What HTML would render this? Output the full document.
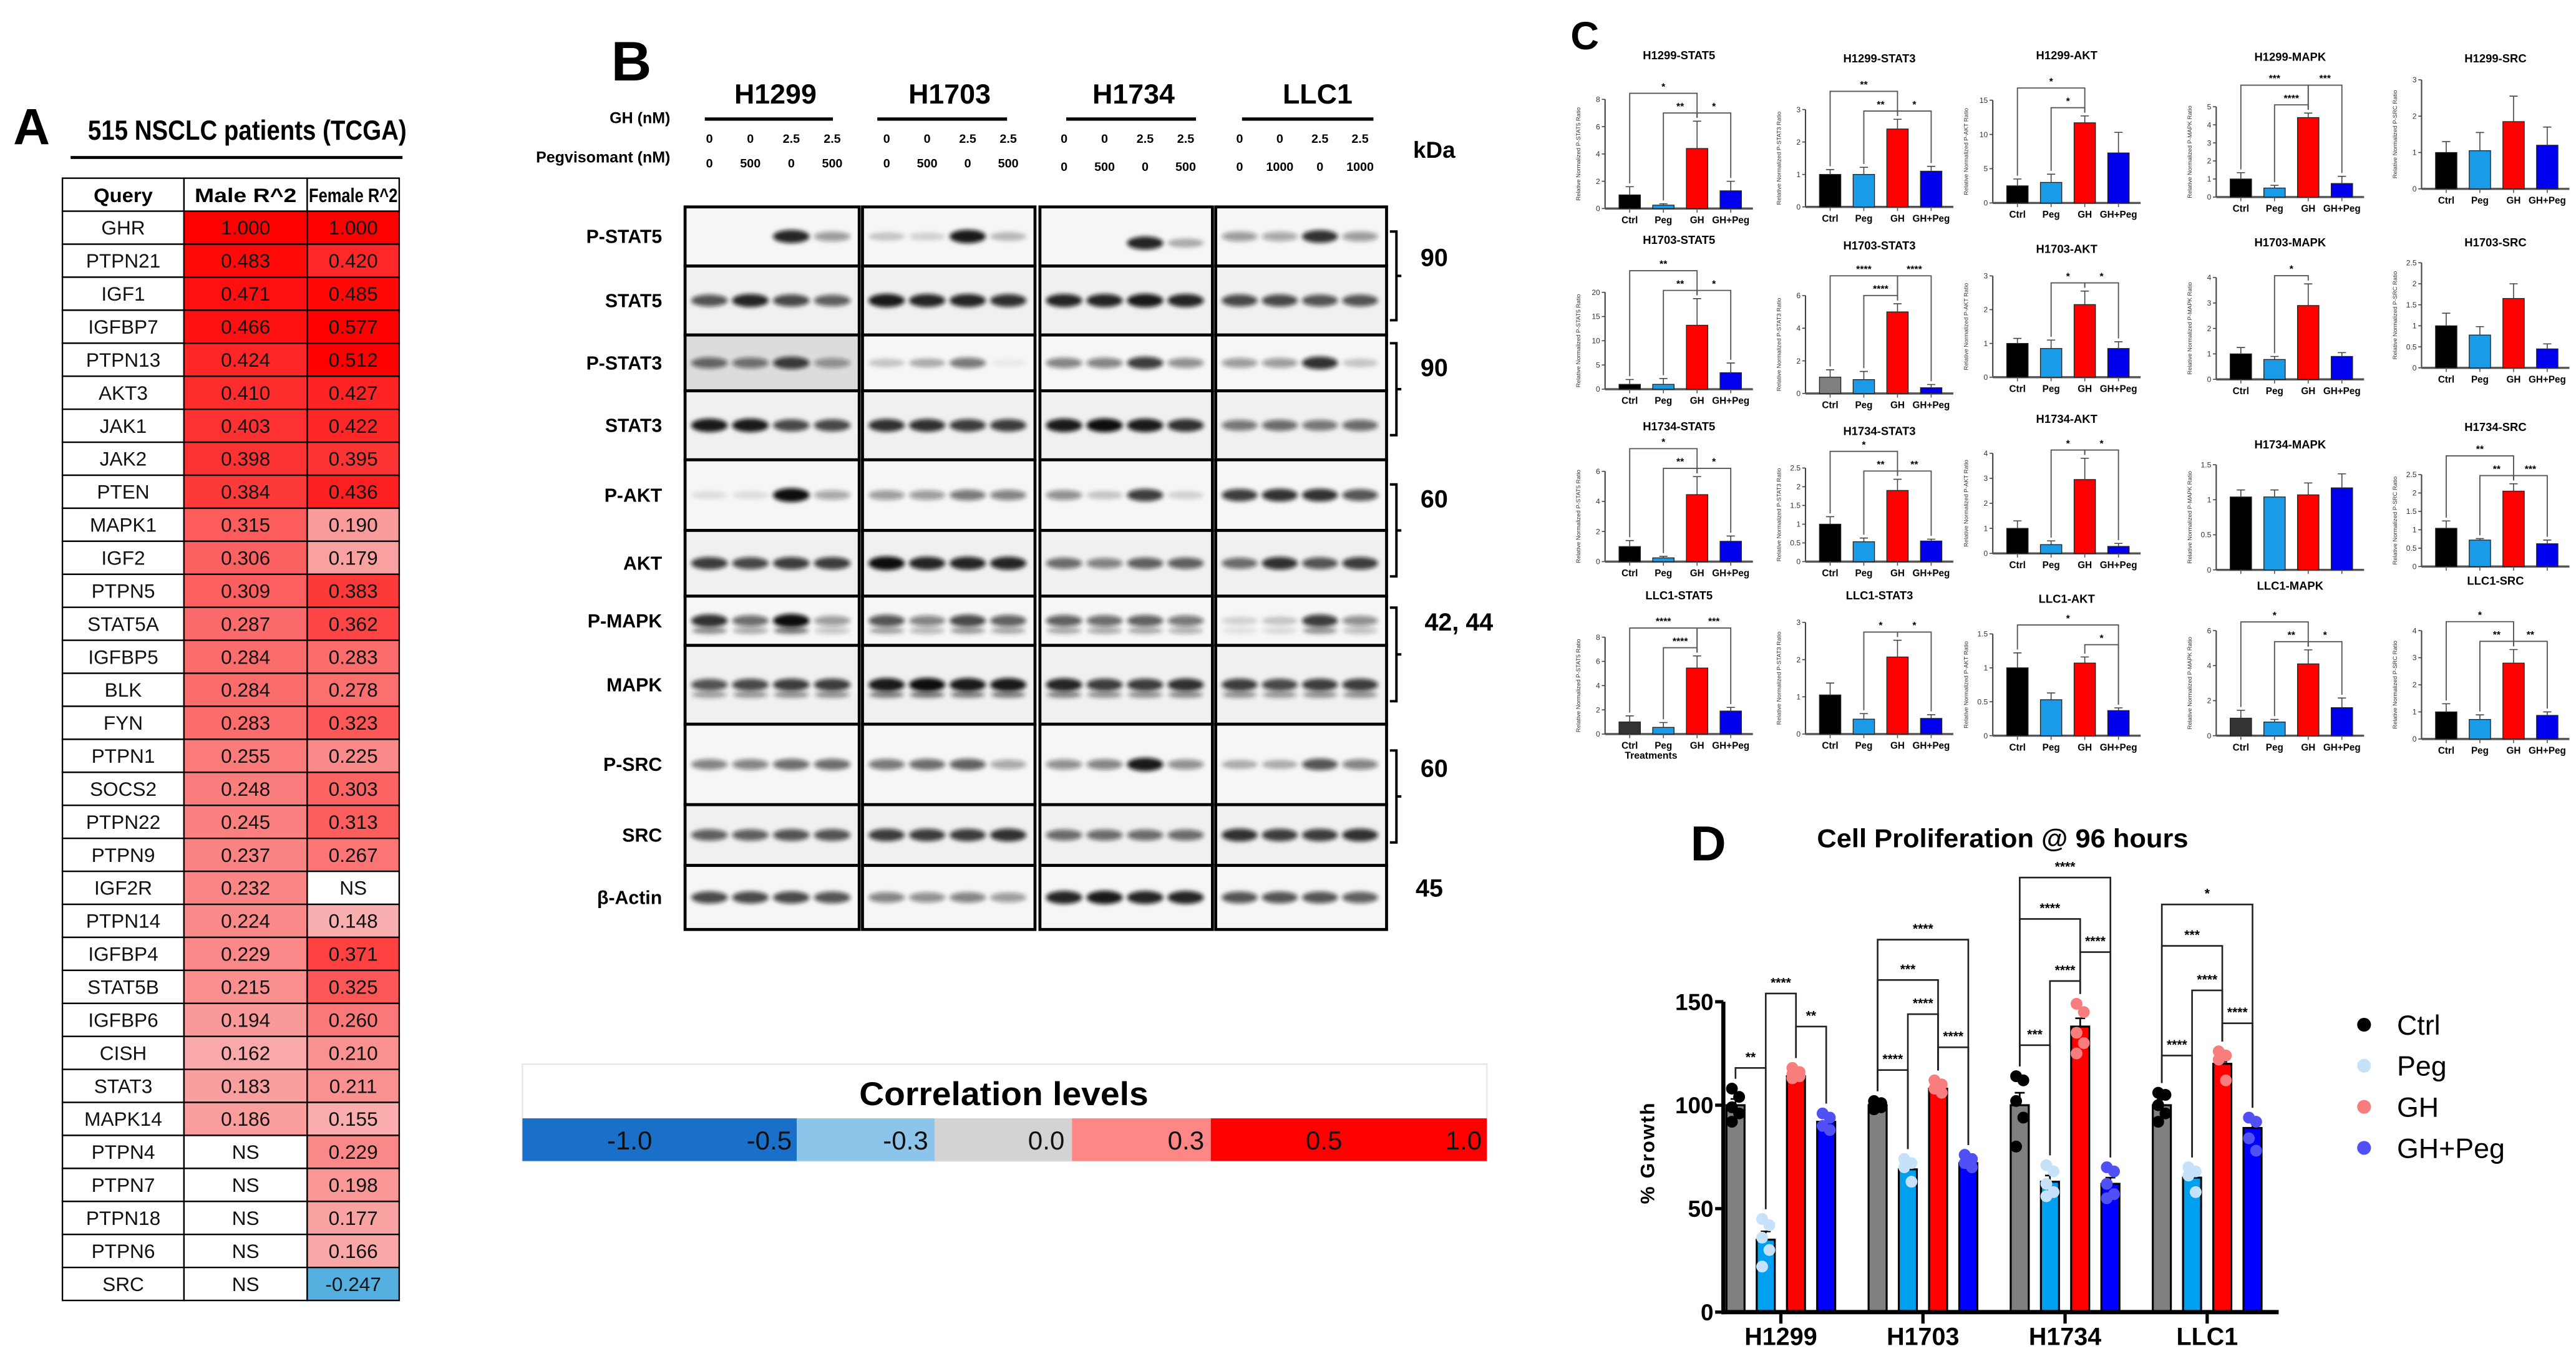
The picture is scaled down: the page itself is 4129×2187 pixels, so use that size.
<!DOCTYPE html>
<html><head><meta charset="utf-8"><title>GHR figure</title>
<style>
html,body{margin:0;padding:0;background:#fff;}
svg{display:block;}
text{font-family:"Liberation Sans Narrow","Liberation Sans",sans-serif;}
</style></head>
<body>
<svg id="fig" xmlns="http://www.w3.org/2000/svg" width="4129" height="2187" viewBox="0 0 1568 830.6" preserveAspectRatio="none">
<defs><filter id="blur" x="-50%" y="-100%" width="200%" height="300%"><feGaussianBlur stdDeviation="1.3"/></filter></defs>
<rect x="0" y="0" width="1568" height="831" fill="#fff"/>
<text x="8" y="88" font-size="31" font-weight="bold" style="font-family:'Liberation Sans',sans-serif">A</text>
<text x="53.5" y="85" font-size="17" font-weight="bold" textLength="194" lengthAdjust="spacingAndGlyphs">515 NSCLC patients (TCGA)</text>
<rect x="43" y="95" width="202" height="1.8" fill="#000"/>
<text x="372" y="49" font-size="34" font-weight="bold" style="font-family:'Liberation Sans',sans-serif">B</text>
<text x="408" y="75" font-size="9.5" font-weight="bold" text-anchor="end">GH (nM)</text>
<text x="408" y="99" font-size="9.5" font-weight="bold" text-anchor="end">Pegvisomant (nM)</text>
<text x="873" y="96" font-size="14" font-weight="bold" text-anchor="middle">kDa</text>
<rect x="318" y="648" width="587" height="59" fill="#fff" stroke="#e8e8e8" stroke-width="1"/>
<text x="611" y="673" font-size="20" font-weight="bold" text-anchor="middle" textLength="176" lengthAdjust="spacingAndGlyphs">Correlation levels</text>
<text x="956" y="30" font-size="24" font-weight="bold" style="font-family:'Liberation Sans',sans-serif">C</text>
<text x="1005" y="462" font-size="6" font-weight="bold" text-anchor="middle">Treatments</text>
<text x="1029" y="524" font-size="30" font-weight="bold" style="font-family:'Liberation Sans',sans-serif">D</text>
<text x="1219" y="516" font-size="16" font-weight="bold" text-anchor="middle" textLength="226" lengthAdjust="spacingAndGlyphs">Cell Proliferation @ 96 hours</text>
<text x="0" y="0" transform="translate(1007,702) rotate(-90)" font-size="12" font-weight="bold" text-anchor="middle" letter-spacing="0.8" style="font-family:'Liberation Sans',sans-serif">% Growth</text>
</svg>
<script>
const queries=["GHR","PTPN21","IGF1","IGFBP7","PTPN13","AKT3","JAK1","JAK2","PTEN","MAPK1","IGF2","PTPN5","STAT5A","IGFBP5","BLK","FYN","PTPN1","SOCS2","PTPN22","PTPN9","IGF2R","PTPN14","IGFBP4","STAT5B","IGFBP6","CISH","STAT3","MAPK14","PTPN4","PTPN7","PTPN18","PTPN6","SRC"];
const maleR2=[1.000,0.483,0.471,0.466,0.424,0.410,0.403,0.398,0.384,0.315,0.306,0.309,0.287,0.284,0.284,0.283,0.255,0.248,0.245,0.237,0.232,0.224,0.229,0.215,0.194,0.162,0.183,0.186,null,null,null,null,null];
const femaleR2=[1.000,0.420,0.485,0.577,0.512,0.427,0.422,0.395,0.436,0.190,0.179,0.383,0.362,0.283,0.278,0.323,0.225,0.303,0.313,0.267,null,0.148,0.371,0.325,0.260,0.210,0.211,0.155,0.229,0.198,0.177,0.166,-0.247];
const cbLabels=["-1.0","-0.5","-0.3","0.0","0.3","0.5","1.0"];
const cbColors=["#1a70c8","#8dc4ea","#d3d3d3","#fd8686","#fe0000"];
const blotCells=["H1299","H1703","H1734","LLC1"];
const blotTreatGH=[["0","0","2.5","2.5"],["0","0","2.5","2.5"],["0","0","2.5","2.5"],["0","0","2.5","2.5"]];
const blotTreatPeg=[["0","500","0","500"],["0","500","0","500"],["0","500","0","500"],["0","1000","0","1000"]];
const blotRows=["P-STAT5","STAT5","P-STAT3","STAT3","P-AKT","AKT","P-MAPK","MAPK","P-SRC","SRC","β-Actin"];
const blotIntensity=[
 [[0,0,.9,.4],[.2,.15,.95,.25],[0,0,.9,.3],[.4,.35,.85,.4]],
 [[.7,.9,.75,.65],[.95,.9,.9,.85],[.9,.9,.95,.9],[.75,.75,.7,.7]],
 [[.6,.55,.8,.4],[.2,.3,.55,.05],[.5,.5,.8,.45],[.4,.4,.85,.2]],
 [[.95,.95,.75,.75],[.85,.85,.8,.8],[.95,1,.95,.85],[.55,.6,.55,.6]],
 [[.1,.1,1,.35],[.4,.4,.55,.5],[.45,.2,.8,.15],[.8,.85,.85,.7]],
 [[.8,.75,.8,.8],[1,.9,.9,.9],[.6,.5,.65,.65],[.6,.85,.7,.8]],
 [[.85,.6,1,.4],[.7,.5,.75,.65],[.65,.6,.65,.55],[.15,.2,.8,.45]],
 [[.7,.75,.8,.8],[.95,1,.95,.95],[.9,.8,.8,.85],[.8,.75,.8,.8]],
 [[.5,.5,.6,.6],[.55,.6,.65,.35],[.45,.5,.95,.45],[.3,.3,.7,.5]],
 [[.65,.65,.7,.7],[.8,.8,.8,.85],[.6,.6,.6,.6],[.85,.8,.8,.85]],
 [[.75,.75,.75,.7],[.5,.45,.5,.4],[.9,.95,.9,.9],[.7,.7,.7,.65]]];
const kdaLabels=["90","90","60","42, 44","60","45"];
const cTitles=["H1299-STAT5","H1299-STAT3","H1299-AKT","H1299-MAPK","H1299-SRC",
 "H1703-STAT5","H1703-STAT3","H1703-AKT","H1703-MAPK","H1703-SRC",
 "H1734-STAT5","H1734-STAT3","H1734-AKT","H1734-MAPK","H1734-SRC",
 "LLC1-STAT5","LLC1-STAT3","LLC1-AKT","LLC1-MAPK","LLC1-SRC"];
const cTicks=[[0,2,4,6,8],[0,1,2,3],[0,5,10,15],[0,1,2,3,4,5],[0,1,2,3],
 [0,5,10,15,20],[0,2,4,6],[0,1,2,3],[0,1,2,3,4],[0,0.5,1,1.5,2,2.5],
 [0,2,4,6],[0,0.5,1,1.5,2,2.5],[0,1,2,3,4],[0,0.5,1,1.5],[0,0.5,1,1.5,2,2.5],
 [0,2,4,6,8],[0,1,2,3],[0,0.5,1,1.5],[0,2,4,6],[0,1,2,3,4]];
const cGroups=["Ctrl","Peg","GH","GH+Peg"];
const cVals=[[1,0.25,4.4,1.3],[1,1,2.4,1.1],[2.5,3,11.7,7.3],[1,0.5,4.4,0.75],[1,1.05,1.85,1.2],
 [1,1,13.2,3.4],[1,0.85,5,0.35],[1,0.85,2.15,0.85],[1,0.78,2.9,0.9],[1,0.78,1.65,0.45],
 [1,0.25,4.45,1.35],[1,0.53,1.9,0.55],[1,0.35,2.95,0.28],[1.04,1.04,1.07,1.17],[1.04,0.72,2.05,0.62],
 [1,0.55,5.45,1.9],[1.05,0.4,2.07,0.42],[1,0.53,1.07,0.37],[1,0.78,4.1,1.6],[1,0.72,2.8,0.87]];
const cErrs=[[0.6,0.1,2,0.7],[0.15,0.22,0.3,0.15],[1,1.2,1,3],[0.35,0.15,0.25,0.4],[0.3,0.5,0.7,0.5],
 [1,1.2,5.5,2],[0.45,0.5,0.5,0.2],[0.15,0.25,0.4,0.2],[0.25,0.12,0.85,0.15],[0.3,0.2,0.35,0.12],
 [0.4,0.1,1.2,0.35],[0.2,0.1,0.3,0.05],[0.3,0.15,0.85,0.12],[0.1,0.1,0.17,0.2],[0.2,0.04,0.2,0.1],
 [0.5,0.4,1,0.3],[0.32,0.15,0.45,0.1],[0.22,0.1,0.09,0.04],[0.45,0.15,0.8,0.55],[0.3,0.17,0.5,0.13]];
const cSig=[[[0,2,"*",2],[1,2,"**",1],[2,3,"*",1]],[[0,2,"**",2],[1,2,"**",1],[2,3,"*",1]],[[0,2,"*",2],[1,2,"*",1]],[[0,2,"***",2],[1,2,"****",1],[2,3,"***",2]],[],
 [[0,2,"**",2],[1,2,"**",1],[2,3,"*",1]],[[0,2,"****",2],[1,2,"****",1],[2,3,"****",2]],[[1,2,"*",1],[2,3,"*",1]],[[1,2,"*",1]],[],
 [[0,2,"*",2],[1,2,"**",1],[2,3,"*",1]],[[0,2,"*",2],[1,2,"**",1],[2,3,"**",1]],[[1,2,"*",1],[2,3,"*",1]],[],[[0,2,"**",2],[1,2,"**",1],[2,3,"***",1]],
 [[0,2,"****",2],[1,2,"****",1],[2,3,"***",2]],[[1,2,"*",1],[2,3,"*",1]],[[0,3,"*",2],[2,3,"*",1]],[[0,2,"*",2],[1,2,"**",1],[2,3,"*",1]],[[0,2,"*",2],[1,2,"**",1],[2,3,"**",1]]];
const dCells=["H1299","H1703","H1734","LLC1"];
const dSeries=["Ctrl","Peg","GH","GH+Peg"];
const dMeans=[[100,35,114,92],[100,69,108,72],[100,63,138,62],[100,65,120,89]];
const dErrs=[[3,4,1,2],[1,2,1,1],[6,3,4,3],[3,2,1,3]];
const dPoints=[
 [[108,104,99,96,92],[45,42,36,30,22],[118,116,115,114,113],[96,94,90,88]],
 [[102,101,100,99,98],[74,72,70,63],[112,110,108,106],[76,74,72,70]],
 [[114,112,102,94,80],[71,68,62,58,56],[149,145,135,130,125],[70,68,62,57,55]],
 [[106,105,100,96,92],[70,68,66,58],[126,124,122,112],[94,92,84,78]]];
const dSig=[
 [[0,1,"**",118],[1,2,"****",154],[2,3,"**",138]],
 [[0,1,"****",117],[1,2,"****",144],[2,3,"****",128],[0,2,"***",160.5],[0,3,"****",180]],
 [[0,1,"***",129],[1,2,"****",160],[2,3,"****",174],[0,2,"****",190],[0,3,"****",210]],
 [[0,1,"****",124],[1,2,"****",155.5],[2,3,"****",139.6],[0,2,"***",177],[0,3,"*",197]]];
const dTicks=[0,50,100,150];

const NS='http://www.w3.org/2000/svg';
const svg=document.getElementById('fig');
function mk(tag,attrs,parent){const e=document.createElementNS(NS,tag);for(const k in attrs)e.setAttribute(k,attrs[k]);(parent||svg).appendChild(e);return e;}
function tx(s,attrs,parent){const e=mk('text',attrs,parent);e.textContent=s;return e;}

const colX=[38,112,187,243];
const rowH=20.1, tTop=108.5;
function rColor(v){
  if(v===null) return '#ffffff';
  if(v<0) return '#55b0e0';
  const t=Math.max(0,Math.min(1,(v-0.15)/0.35));
  const r=Math.round(249+6*t), g=Math.round(175*(1-t)), b=Math.round(175*(1-t));
  return `rgb(${r},${g},${b})`;
}
const headers=["Query","Male R^2","Female R^2"];
const headerLen=[36,62,54];
for(let c=0;c<3;c++){
  const h=mk('rect',{x:colX[c],y:tTop,width:colX[c+1]-colX[c],height:rowH,fill:'#fff',stroke:'#000','stroke-width':0.9});
  
  
  const ht=tx(headers[c],{x:(colX[c]+colX[c+1])/2,y:tTop+14.5,'font-size':12,'font-weight':'bold','text-anchor':'middle',textLength:headerLen[c],lengthAdjust:'spacingAndGlyphs'});
  
  
}
queries.forEach((q,i)=>{
  const y=tTop+rowH*(i+1);
  const vals=[q,maleR2[i],femaleR2[i]];
  for(let c=0;c<3;c++){
    const fill=c===0?'#fff':rColor(vals[c]);
    const r=mk('rect',{x:colX[c],y:y,width:colX[c+1]-colX[c],height:rowH,fill:fill,stroke:'#000','stroke-width':0.9});
    
    
    const s=c===0?q:(vals[c]===null?'NS':vals[c].toFixed(3));
    const t=tx(s,{x:(colX[c]+colX[c+1])/2,y:y+14.3,'font-size':12,'text-anchor':'middle',fill:'#111'});
    
    
  }
});

const cbEdges=[318,485,569,652.5,737,905];
cbColors.forEach((col,i)=>{
  const r=mk('rect',{x:cbEdges[i],y:681,width:cbEdges[i+1]-cbEdges[i],height:26,fill:col});
  
  
});
const cbLabelX=[397,482,565,648,733,817,902];
cbLabels.forEach((l,i)=>{
  const t=tx(l,{x:cbLabelX[i],y:700,'font-size':16,'text-anchor':'end',fill:'#111'});
  
  
});

const bColX=[[417,523],[525,630],[633,738],[740,844]];
const bRowY=[126,162,204,238,280,323,363,393,441,490,527,566];
const headX=[472,578,690,802], lineX=[[429,507],[534,613],[649,728],[756,836]];
blotCells.forEach((c,ci)=>{
  const t=tx(c,{x:headX[ci],y:63,'font-size':17,'font-weight':'bold','text-anchor':'middle'});
  
  
  const ln=mk('rect',{x:lineX[ci][0],y:71.5,width:lineX[ci][1]-lineX[ci][0],height:2,fill:'#000'});
  
  
  const w=bColX[ci][1]-bColX[ci][0];
  for(let l=0;l<4;l++){
    const lx=bColX[ci][0]+w*(0.14+l*0.235);
    const g=tx(blotTreatGH[ci][l],{x:lx,y:87,'font-size':7.5,'font-weight':'bold','text-anchor':'middle'});
    
    
    const p=tx(blotTreatPeg[ci][l],{x:lx,y:ci<2?102:104,'font-size':7.5,'font-weight':'bold','text-anchor':'middle'});
    
    
  }
});
blotRows.forEach((rn,ri)=>{
  const y0=bRowY[ri], y1=bRowY[ri+1];
  const lab=tx(rn,{x:403,y:(y0+y1)/2+4,'font-size':11.5,'font-weight':'bold','text-anchor':'end'});
  
  
  for(let ci=0;ci<4;ci++){
    const x0=bColX[ci][0], x1=bColX[ci][1], w=x1-x0;
    const bg=(ri===2&&ci===0)?'#dcdcdc':(ri%2===0?'#f6f6f6':'#f0f0f0');
    const cell=mk('rect',{x:x0,y:y0,width:w,height:y1-y0,fill:bg,stroke:'#000','stroke-width':1.8});
    
    
    for(let l=0;l<4;l++){
      const v=blotIntensity[ri][ci][l];
      if(v<=0) continue;
      const cx=x0+w*(0.14+l*0.235);
      let cy=(y0+y1)/2+(ri===0&&ci===2?4:0);
      const band=mk('ellipse',{cx:cx,cy:cy,rx:w*0.105,ry:2.2+2*v,fill:'#111','fill-opacity':Math.min(1,v),filter:'url(#blur)'});
      
      
      if(ri===6||ri===7){
        const b2=mk('ellipse',{cx:cx,cy:cy+6,rx:w*0.1,ry:2,fill:'#222','fill-opacity':v*0.6,filter:'url(#blur)'});
        
        
      }
    }
  }
});
const brackets=[[141,195],[209,265],[295,351],[370,427],[457,513]];
brackets.forEach(b=>{
  const p=mk('path',{d:`M846 ${b[0]} H850 V${b[1]} H846 M850 ${(b[0]+b[1])/2} H853`,fill:'none',stroke:'#000','stroke-width':1.5});
  
  
});
const kdaY=[162,229,309,384,473,546], kdaX=[873,873,873,888,873,870];
kdaLabels.forEach((k,i)=>{
  const t=tx(k,{x:kdaX[i],y:kdaY[i],'font-size':15,'font-weight':'bold','text-anchor':'middle'});
  
  
});

const cAx=[977,1099,1213,1349,1474];
const cBase=[127,126,123.6,120,115, 237,239.6,229.7,231,224, 342,342,337,347,345, 447,447,448,448,450];
const cTopY=[60.5,66.7,61,65,48.6, 178,180,168,169,160, 287,285,276,283,289, 388,379,386,384,384];
const cTitleY=[36,38,36,37,38, 148.5,152,154,150,150, 262,265,257.5,273,262.5, 365,365,367,359,356];
const cNoLabels=[13,14];
const cCols=['#000000','#1a9be8','#ff0000','#0000ee'];
cTitles.forEach((title,i)=>{
  const ax=cAx[i%5], base=cBase[i], top=cTopY[i];
  const ticks=cTicks[i], ymax=ticks[ticks.length-1];
  const ys=v=>base-(v/ymax)*(base-top);
  const g=mk('g',{});
  
  
  const tt=tx(title,{x:ax+45,y:cTitleY[i],'font-size':7,'font-weight':'bold','text-anchor':'middle'},g);
  
  
  const yl=tx('Relative Normalized P-'+title.split('-')[1]+' Ratio',{x:0,y:0,transform:`translate(${ax-15},${(base+top)/2}) rotate(-90)`,'font-size':3.6,'text-anchor':'middle',fill:'#333'},g);
  
  
  const yax=mk('line',{x1:ax,y1:top,x2:ax,y2:base,stroke:'#444','stroke-width':0.8},g);
  
  
  ticks.forEach(tv=>{
    const tk=mk('line',{x1:ax-2,y1:ys(tv),x2:ax,y2:ys(tv),stroke:'#444','stroke-width':0.6},g);
    
    
    const tl=tx(String(tv%1===0?tv:tv.toFixed(1)),{x:ax-3,y:ys(tv)+1.6,'font-size':4.6,'text-anchor':'end',fill:'#333'},g);
    
    
  });
  const xax=mk('line',{x1:ax,y1:base,x2:ax+90,y2:base,stroke:'#555','stroke-width':1.3},g);
  
  
  const bx=k=>ax+15+k*20.5;
  cVals[i].forEach((v,k)=>{
    const col=(i===6&&k===0)?'#808080':((i===15||i===18)&&k===0?'#333':cCols[k]);
    const b=mk('rect',{x:bx(k)-6.5,y:ys(v),width:13,height:base-ys(v),fill:col,stroke:'#222','stroke-width':0.5},g);
    
    
    const e=cErrs[i][k];
    const eb=mk('path',{d:`M${bx(k)} ${ys(v)} V${ys(v+e)} M${bx(k)-2.5} ${ys(v+e)} H${bx(k)+2.5}`,stroke:'#444','stroke-width':0.6,fill:'none'},g);
    
    
    const xt=mk('line',{x1:bx(k),y1:base,x2:bx(k),y2:base+2.5,stroke:'#555','stroke-width':0.6},g);
    
    
    if(cNoLabels.indexOf(i)<0){
      const xl=tx(cGroups[k],{x:bx(k),y:base+9,'font-size':5.8,'font-weight':'bold','text-anchor':'middle'},g);
      
      
    }
  });
  let peak=0; cVals[i].forEach((v,k)=>{peak=Math.max(peak,v+cErrs[i][k]);});
  const lvl1=ys(peak)-5;
  cSig[i].forEach(s=>{
    const yb=s[3]===1?lvl1:lvl1-12;
    const x1=bx(s[0]),x2=bx(s[1]);
    const br=mk('path',{d:`M${x1} ${ys(cVals[i][s[0]]+cErrs[i][s[0]])-2} V${yb} H${x2} V${ys(cVals[i][s[1]]+cErrs[i][s[1]])-2}`,stroke:'#555','stroke-width':0.7,fill:'none'},g);
    
    
    const st=tx(s[2],{x:(x1+x2)/2,y:yb-2,'font-size':6,'font-weight':'bold','text-anchor':'middle'},g);
    
    
  });
});

const dAxX=1049, dY0=799, dPx=1.26, dG0=1084, dGs=86.5, dBs=18.4, dBw=11;
const yD=v=>dY0-v*dPx;
const gx=g=>dG0+g*dGs;
const bxD=(g,k)=>gx(g)-1.5*dBs+k*dBs;
const dBarCols=['#808080','#00a0f0','#ff0000','#0000ff'];
const dPtCols=['#000000','#c6e2fb','#f87d7d','#5050f5'];
const dYax=mk('line',{x1:dAxX,y1:yD(150),x2:dAxX,y2:dY0+1.3,stroke:'#000','stroke-width':2.5});


dTicks.forEach(t=>{
  const tk=mk('line',{x1:dAxX-5,y1:yD(t),x2:dAxX,y2:yD(t),stroke:'#000','stroke-width':2});
  
  
  const tl=tx(String(t),{x:dAxX-6,y:yD(t)+5,'font-size':14,'font-weight':'bold','text-anchor':'end'});
  
  
});
dCells.forEach((cell,g)=>{
  dMeans[g].forEach((v,k)=>{
    const b=mk('rect',{x:bxD(g,k)-dBw/2,y:yD(v),width:dBw,height:dY0-yD(v),fill:dBarCols[k],stroke:'#000','stroke-width':1.2});
    
    
    const e=dErrs[g][k];
    const eb=mk('path',{d:`M${bxD(g,k)} ${yD(v)} V${yD(v+e)} M${bxD(g,k)-3} ${yD(v+e)} H${bxD(g,k)+3}`,stroke:'#000','stroke-width':1,fill:'none'});
    
    
    dPoints[g][k].forEach((p,j)=>{
      const c=mk('circle',{cx:bxD(g,k)+(j%2?2.2:-2.2),cy:yD(p),r:3.6,fill:dPtCols[k]});
      
      
    });
  });
  const tk=mk('line',{x1:gx(g),y1:dY0,x2:gx(g),y2:dY0+7,stroke:'#000','stroke-width':2});
  
  
  const xl=tx(cell,{x:gx(g),y:819,'font-size':15,'font-weight':'bold','text-anchor':'middle'});
  
  
  dSig[g].forEach(s=>{
    const x1=bxD(g,s[0]),x2=bxD(g,s[1]),yb=yD(s[3]);
    const top1=yD(Math.max(...dPoints[g][s[0]]))-6, top2=yD(Math.max(...dPoints[g][s[1]]))-6;
    const br=mk('path',{d:`M${x1} ${top1} V${yb} H${x2} V${top2}`,stroke:'#222','stroke-width':1,fill:'none'});
    
    
    const st=tx(s[2],{x:(x1+x2)/2,y:yb-4,'font-size':8,'font-weight':'bold','text-anchor':'middle'});
    
    
  });
});
const dXax=mk('line',{x1:dAxX-1,y1:dY0,x2:1387,y2:dY0,stroke:'#000','stroke-width':2.6});


const legY=[624,649,674,699];
dSeries.forEach((s,k)=>{
  const c=mk('circle',{cx:1439,cy:legY[k],r:4.2,fill:dPtCols[k]});
  
  
  const t=tx(s,{x:1459,y:legY[k]+6,'font-size':17});
  
  
});
</script>
</body></html>
